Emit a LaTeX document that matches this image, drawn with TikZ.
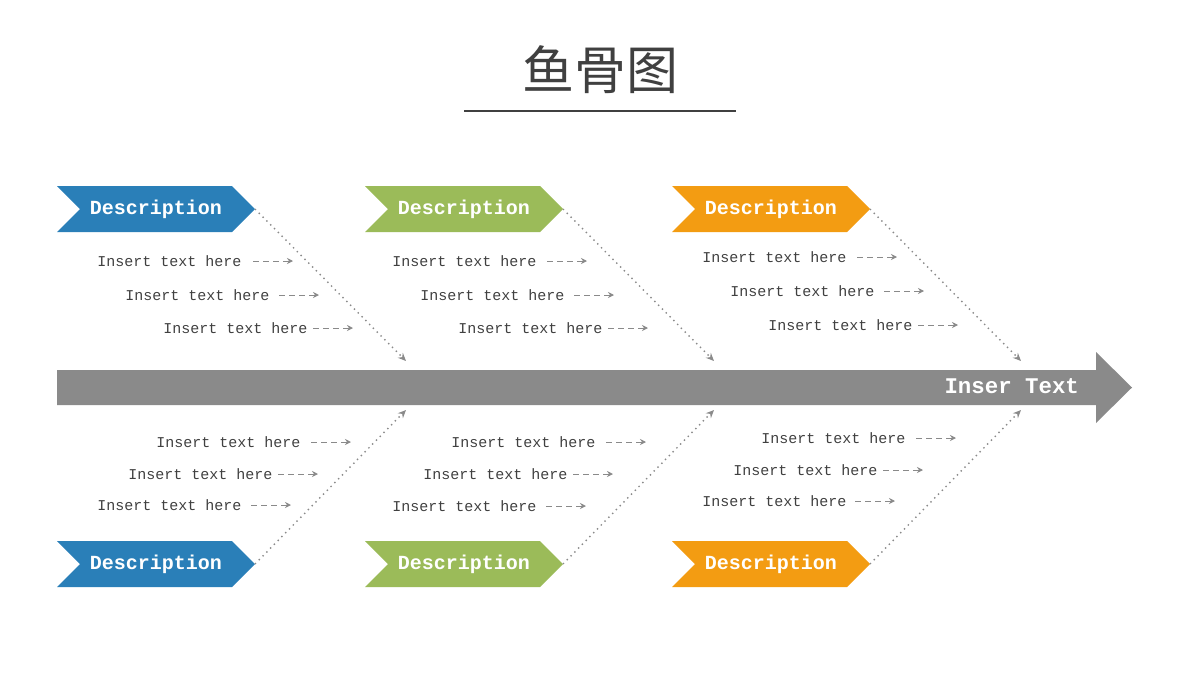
\documentclass[tikz,border=0pt]{standalone}
\usepackage{fontspec}
\setmonofont{Liberation Mono}
\newfontfamily\cjk{Noto Sans CJK SC}
\usetikzlibrary{arrows.meta}
\definecolor{fbblue}{HTML}{2A7FB8}
\definecolor{fbgreen}{HTML}{9BBB59}
\definecolor{fborange}{HTML}{F39C12}
\definecolor{fbgray}{HTML}{8A8A8A}
\definecolor{fbtext}{HTML}{404040}
\tikzset{
	item/.style={anchor=west, inner sep=0pt, text=fbtext, font=\ttfamily\fontsize{7.5}{8}\selectfont},
	itemarrow/.style={fbgray, densely dashed, line width=0.5pt, -{Stealth[length=3pt,width=3pt]}},
	bone/.style={fbgray, dotted, line width=0.7pt, -{Stealth[length=4pt,width=3.5pt]}},
	desc/.style={text=white, font=\ttfamily\bfseries\fontsize{10}{12}\selectfont},
}
\begin{document}
\begin{tikzpicture}[x=0.5pt,y=-0.5pt]

	% ---- canvas

	\useasboundingbox (0,0) rectangle (1200,675);

	% ---- title

	\node[text=fbtext, font=\cjk\fontsize{26}{30}\selectfont] (title) at (600,70) {鱼骨图};
	\draw[fbtext, line width=0.6pt] (464,111) -- (736,111);

	% ---- spine

	\fill[fbgray] (57,370) -- (1096,370) -- (1096,352) -- (1132,387.5) -- (1096,423) -- (1096,405) -- (57,405) -- cycle;
	\node[text=white, font=\ttfamily\bfseries\fontsize{11.2}{13}\selectfont, anchor=east] (head) at (1086,386) {Inser Text};

	% ---- description chevrons and bones

	\foreach \x/\col/\n in {57/fbblue/a, 365/fbgreen/b, 672/fborange/c} {
		\fill[\col] (\x,186) -- (\x+175,186) -- (\x+198,209) -- (\x+175,232) -- (\x,232) -- (\x+23,209) -- cycle;
		\node[desc] (top\n) at (\x+99,209) {Description};
		\coordinate (topp\n) at (\x+198,209);
		\coordinate (topend\n) at (\x+349,361);
		\draw[bone] (topp\n) -- (topend\n);

		\fill[\col] (\x,541) -- (\x+175,541) -- (\x+198,564) -- (\x+175,587) -- (\x,587) -- (\x+23,564) -- cycle;
		\node[desc] (bot\n) at (\x+99,564) {Description};
		\coordinate (botp\n) at (\x+198,564);
		\coordinate (botend\n) at (\x+349,410);
		\draw[bone] (botp\n) -- (botend\n);
	}

	% ---- text items

	\foreach \x/\y/\ax/\n in {
		97/261/253/1, 125/295/279/2, 163/328/313/3,
		392/261/547/4, 420/295/574/5, 458/328/608/6,
		702/257/857/7, 730/291/884/8, 768/325/918/9,
		156/442/311/10, 128/474/278/11, 97/505/251/12,
		451/442/606/13, 423/474/573/14, 392/506/546/15,
		761/438/916/16, 733/470/883/17, 702/501/855/18} {
		\node[item] (t\n) at (\x,\y) {Insert text here};
		\coordinate (s\n) at (\ax,\y);
		\coordinate (e\n) at (\ax+40,\y);
		\draw[itemarrow] (s\n) -- (e\n);
	}

\end{tikzpicture}
\end{document}
